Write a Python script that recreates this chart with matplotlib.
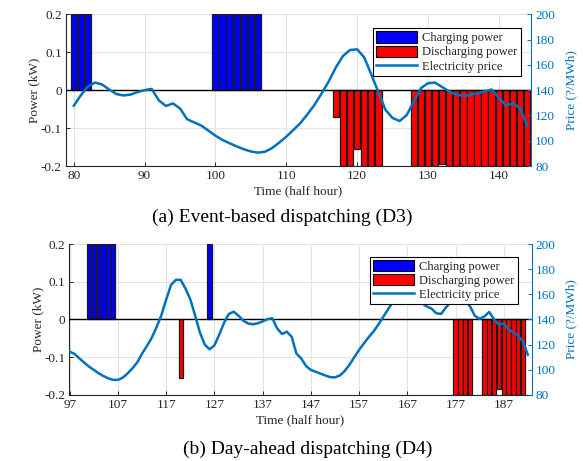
import numpy as np
import matplotlib.pyplot as plt
from matplotlib.patches import Patch
from matplotlib.lines import Line2D

plt.rcParams['font.family'] = ['Liberation Serif', 'DejaVu Serif']
plt.rcParams['xtick.direction'] = 'in'
plt.rcParams['ytick.direction'] = 'in'

BLUE_LINE = '#0072BD'
AX_GRAY = '#262626'

# ---- (a) Event-based dispatching (D3) ----
a_charge_t = [80, 81, 82, 100, 101, 102, 103, 104, 105, 106]
a_charge_p = [0.2] * 10
a_dis_t = [117, 118, 119, 120, 121, 122, 123,
           128, 129, 130, 131, 132, 133, 134, 135, 136, 137, 138, 139, 140, 141, 142, 143, 144]
a_dis_p = [-0.07, -0.2, -0.2, -0.156, -0.2, -0.2, -0.2,
           -0.2, -0.2, -0.2, -0.2, -0.195, -0.2, -0.2, -0.2, -0.2, -0.2, -0.2, -0.2, -0.2, -0.2, -0.2, -0.2, -0.2]
a_price_t = list(range(80, 145))
a_price = [127.7, 136, 143, 146, 144.5, 140.5, 137, 135.8, 136.5, 138.5,
           140, 141, 132, 127.5, 129.5, 125.5, 117, 114.5, 112, 108,
           104, 100.6, 98, 95.5, 93.3, 91.5, 90.6, 91.3, 94.2, 98.5,
           103.2, 108.5, 114, 121, 128.5, 137.5, 147, 158, 167, 171.8,
           172.3, 166, 152.5, 138.5, 124.5, 118, 115.6, 120.3, 131, 141.5,
           145.5, 146, 142.5, 139, 136.5, 135.5, 136.2, 137.5, 139, 140.5,
           134, 128, 129.5, 126, 112]

# ---- (b) Day-ahead dispatching (D4) ----
b_charge_t = [101, 102, 103, 104, 105, 106, 126]
b_charge_p = [0.2] * 7
b_dis_t = [120, 177, 178, 179, 180, 183, 184, 185, 186, 187, 188, 189, 190, 191]
b_dis_p = [-0.156, -0.2, -0.2, -0.2, -0.2, -0.2, -0.2, -0.2, -0.184, -0.2, -0.2, -0.2, -0.2, -0.2]
b_price_t = list(range(97, 193))
b_price = [114.4, 112.6, 109, 105.7, 102.5, 99.9, 97.2, 95, 93.2, 92,
           92, 93.8, 97.2, 101.2, 106, 113, 119, 125.5, 134, 143.5,
           156, 167.5, 171.5, 171.5, 164.5, 156, 143, 129.5, 120, 116.3,
           119.5, 128, 137.5, 144.5, 146.2, 143, 139, 136.8, 136.2, 137,
           138.5, 140.3, 141, 133, 128.5, 130.3, 126.4, 113, 109, 103,
           99.9, 98.5, 97, 95.5, 94.2, 94, 95.5, 99, 104, 110,
           115.8, 121, 126, 130.5, 136, 142, 148, 154, 159, 162,
           163, 161, 157, 153, 150.5, 148.7, 145, 144.4, 149.5, 154,
           156.5, 157, 155, 150.5, 143, 140.5, 142.5, 146, 140, 135.8,
           137, 132, 129.8, 127, 122.4, 112]

y_ticks = [-0.2, -0.1, 0, 0.1, 0.2]
y_ticklabels = ['-0.2', '-0.1', '0', '0.1', '0.2']
price_ticks = [80, 100, 120, 140, 160, 180, 200]

fig = plt.figure(figsize=(5.83, 4.61), dpi=100)


def draw_panel(rect, xlim, xticks, ct, cp, dt, dp, pt, pp, leg_anchor):
    ax = fig.add_axes(rect)
    ax.bar(ct, cp, width=0.9, color='#0000FF', edgecolor='#1a1a1a', linewidth=0.9, zorder=2)
    ax.bar(dt, dp, width=0.9, color='#FF0000', edgecolor='#1a1a1a', linewidth=0.9, zorder=2)
    ax.axhline(0, color='k', lw=1.0, zorder=3)
    ax.set_xlim(*xlim)
    ax.set_ylim(-0.2, 0.2)
    ax.set_xticks(xticks)
    ax.set_yticks(y_ticks)
    ax.set_yticklabels(y_ticklabels)
    ax.grid(True, color='#e3e3e3', lw=0.8)
    ax.set_axisbelow(True)
    ax.tick_params(labelsize=9.5, length=3, width=0.7, pad=3, colors=AX_GRAY)
    ax.spines['top'].set_visible(False)
    ax.spines['right'].set_visible(False)
    for s in ['left', 'bottom']:
        ax.spines[s].set_linewidth(0.8)
        ax.spines[s].set_color(AX_GRAY)
    ax.set_ylabel('Power (kW)', fontsize=9.5, labelpad=0, color=AX_GRAY)
    ax.set_xlabel('Time (half hour)', fontsize=9.5, labelpad=2, color=AX_GRAY)

    ax2 = ax.twinx()
    ax2.plot(pt, pp, color=BLUE_LINE, lw=1.8)
    ax2.set_ylim(80, 200)
    ax2.set_yticks(price_ticks)
    ax2.tick_params(labelsize=9.5, length=3, width=0.7, colors=BLUE_LINE, pad=3)
    for s in ['top', 'left', 'bottom']:
        ax2.spines[s].set_visible(False)
    ax2.spines['right'].set_color(BLUE_LINE)
    ax2.spines['right'].set_linewidth(0.8)
    ax2.set_ylabel('Price (?/MWh)', fontsize=9.5, color=BLUE_LINE, labelpad=7)

    handles = [Patch(facecolor='#0000FF', edgecolor='k', linewidth=0.8),
               Patch(facecolor='#FF0000', edgecolor='k', linewidth=0.8),
               Line2D([], [], color=BLUE_LINE, lw=1.8)]
    labels = ['Charging power', 'Discharging power', 'Electricity price']
    leg = ax2.legend(handles, labels, loc='upper left', bbox_to_anchor=leg_anchor,
                     fontsize=9, frameon=True, fancybox=False, framealpha=1,
                     edgecolor='k', handlelength=3.3, handleheight=1.0,
                     handletextpad=0.4, labelspacing=0.1, borderpad=0.25,
                     borderaxespad=0)
    leg.get_frame().set_linewidth(0.8)
    for t in leg.get_texts():
        t.set_color(AX_GRAY)
    return ax, ax2


draw_panel([0.1132, 0.6399, 0.7976, 0.329], (78.9, 144.55), [80, 90, 100, 110, 120, 130, 140],
           a_charge_t, a_charge_p, a_dis_t, a_dis_p, a_price_t, a_price, (0.66, 0.908))
draw_panel([0.1189, 0.1432, 0.7931, 0.3275], (96.9, 192.8), list(range(97, 188, 10)),
           b_charge_t, b_charge_p, b_dis_t, b_dis_p, b_price_t, b_price, (0.65, 0.916))

fig.text(0.484, 0.529, '(a) Event-based dispatching (D3)', fontsize=14, ha='center', va='center')
fig.text(0.528, 0.026, '(b) Day-ahead dispatching (D4)', fontsize=14, ha='center', va='center')

fig.savefig('out.png', dpi=100)
